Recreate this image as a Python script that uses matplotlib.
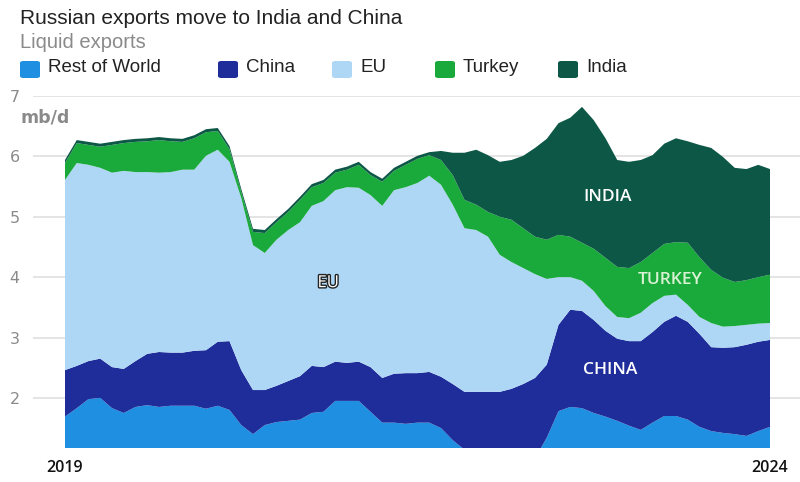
import numpy as np
import matplotlib
matplotlib.use("Agg")
import matplotlib.pyplot as plt
from matplotlib.patches import FancyBboxPatch
import matplotlib.patheffects as pe

# monthly liquid exports, mb/d (Jan 2019 .. Jan 2024)
rest_of_world = [1.69, 1.83, 1.98, 2.00, 1.83, 1.75, 1.85, 1.88, 1.85, 1.87,
                 1.87, 1.87, 1.82, 1.87, 1.80, 1.55, 1.40, 1.55, 1.60, 1.62,
                 1.64, 1.75, 1.77, 1.95, 1.95, 1.95, 1.77, 1.59, 1.59, 1.57,
                 1.59, 1.59, 1.50, 1.30, 1.14, 1.00, 1.00, 1.00, 1.00, 1.00,
                 1.00, 1.34, 1.78, 1.85, 1.83, 1.75, 1.69, 1.62, 1.54, 1.47,
                 1.59, 1.70, 1.70, 1.64, 1.52, 1.45, 1.42, 1.40, 1.37, 1.45,
                 1.52]
china = [0.77, 0.70, 0.63, 0.65, 0.68, 0.73, 0.76, 0.85, 0.91, 0.88,
         0.88, 0.91, 0.97, 1.06, 1.14, 0.91, 0.73, 0.58, 0.60, 0.66,
         0.72, 0.78, 0.74, 0.65, 0.63, 0.65, 0.74, 0.74, 0.81, 0.84,
         0.82, 0.84, 0.85, 0.93, 0.96, 1.10, 1.10, 1.10, 1.15, 1.23,
         1.33, 1.21, 1.43, 1.61, 1.61, 1.54, 1.42, 1.36, 1.40, 1.47,
         1.50, 1.56, 1.66, 1.62, 1.54, 1.39, 1.41, 1.44, 1.51, 1.48,
         1.44]
eu = [3.15, 3.36, 3.25, 3.16, 3.22, 3.28, 3.13, 3.01, 2.97, 2.99,
      3.03, 3.00, 3.22, 3.18, 2.97, 2.85, 2.40, 2.27, 2.42, 2.50,
      2.55, 2.65, 2.75, 2.84, 2.91, 2.88, 2.85, 2.85, 3.04, 3.08,
      3.15, 3.25, 3.18, 2.97, 2.71, 2.68, 2.57, 2.27, 2.10, 1.92,
      1.72, 1.42, 0.79, 0.54, 0.50, 0.48, 0.41, 0.36, 0.38, 0.47,
      0.48, 0.43, 0.35, 0.28, 0.28, 0.40, 0.35, 0.35, 0.33, 0.30,
      0.28]
turkey = [0.28, 0.33, 0.33, 0.35, 0.46, 0.46, 0.50, 0.51, 0.54, 0.51,
          0.46, 0.52, 0.39, 0.31, 0.21, 0.10, 0.22, 0.33, 0.29, 0.30,
          0.37, 0.31, 0.30, 0.29, 0.29, 0.38, 0.33, 0.40, 0.32, 0.37,
          0.40, 0.34, 0.41, 0.49, 0.47, 0.42, 0.41, 0.63, 0.70, 0.66,
          0.62, 0.65, 0.70, 0.67, 0.63, 0.70, 0.80, 0.83, 0.83, 0.84,
          0.83, 0.86, 0.87, 1.03, 0.99, 0.88, 0.81, 0.73, 0.74, 0.77,
          0.80]
india = [0.05, 0.05, 0.05, 0.05, 0.05, 0.05, 0.05, 0.05, 0.05, 0.05,
         0.05, 0.05, 0.05, 0.05, 0.05, 0.05, 0.05, 0.05, 0.05, 0.05,
         0.05, 0.05, 0.05, 0.05, 0.05, 0.05, 0.05, 0.05, 0.05, 0.05,
         0.05, 0.05, 0.15, 0.37, 0.78, 0.91, 0.94, 0.91, 0.99, 1.20,
         1.47, 1.67, 1.85, 1.97, 2.25, 2.13, 1.98, 1.77, 1.76, 1.69,
         1.62, 1.66, 1.72, 1.68, 1.86, 2.02, 2.00, 1.89, 1.84, 1.86,
         1.75]

series_names = ["Rest of World", "China", "EU", "Turkey", "India"]
colors = ["#1e8fe1", "#1f2d9b", "#aed7f5", "#1aaa3c", "#0d5746"]
y_ticks = [2, 3, 4, 5, 6, 7]
x_ticks = [0, 60]
x_labels = ["2019", "2024"]

FONT = "Liberation Sans"
x = np.arange(len(india))

fig = plt.figure(figsize=(8, 4.82), dpi=100)
ax = fig.add_axes([33 / 800, 1 - 448 / 482, 767 / 800, 352 / 482])

ax.stackplot(x, rest_of_world, china, eu, turkey, india,
             colors=colors, linewidth=0)

ax.set_xlim(-32 / 11.75, 60 + 30 / 11.75)
ax.set_ylim(1.17, 7.0)
ax.set_yticks(y_ticks)
ax.set_xticks(x_ticks)
ax.set_xticklabels(x_labels)
ax.set_axisbelow(True)
ax.yaxis.grid(True, color="#e2e2e2", linewidth=1.3)
for s in ax.spines.values():
    s.set_visible(False)
ax.tick_params(axis="y", length=0, pad=9.5, labelsize=11.5, labelcolor="#8a8a8a")
ax.tick_params(axis="x", length=0, pad=9, labelsize=11.5, labelcolor="#111111")
for lab in ax.get_yticklabels():
    lab.set_fontfamily("DejaVu Sans")
for lab in ax.get_xticklabels():
    lab.set_fontfamily("Open Sans")
    lab.set_fontweight("semibold")

fig.text(20 / 800, 1 - 117 / 482, "mb/d",
         fontsize=12.5, fontweight="bold", color="#8a8a8a", family="DejaVu Sans",
         va="center", ha="left")

# title, subtitle
fig.text(20 / 800, 1 - 18 / 482, "Russian exports move to India and China",
         fontsize=15, color="#222222", family=FONT, va="center", ha="left")
fig.text(20 / 800, 1 - 43 / 482, "Liquid exports",
         fontsize=14.5, color="#8a8a8a", family=FONT, va="center", ha="left")

# legend row
legend_x = [20, 218, 332, 435, 558]
for name, col, lx in zip(series_names, colors, legend_x):
    box = FancyBboxPatch((lx / 800, 1 - 78 / 482), 20 / 800, 17 / 482,
                         boxstyle="round,pad=0,rounding_size=0.004",
                         transform=fig.transFigure, facecolor=col,
                         edgecolor="none")
    fig.patches.append(box)
    fig.text((lx + 28) / 800, 1 - 68 / 482, name, fontsize=13.5,
             color="#222222", family=FONT, va="center", ha="left")

# labels inside the areas
ax.text(46.2, 5.33, "INDIA", color="white", fontsize=12.5, family="Open Sans",
        fontweight="semibold", ha="center", va="center")
ax.text(51.5, 3.95, "TURKEY", color="#d9f2d3", fontsize=12.5, family="Open Sans",
        fontweight="semibold", ha="center", va="center")
ax.text(46.4, 2.46, "CHINA", color="white", fontsize=12.5, family="Open Sans",
        fontweight="semibold", ha="center", va="center")
ax.text(22.4, 3.9, "EU", color="white", fontsize=12, family="Open Sans",
        ha="center", va="center",
        path_effects=[pe.withStroke(linewidth=2, foreground="#222222")])

fig.savefig("out.png", dpi=100)
